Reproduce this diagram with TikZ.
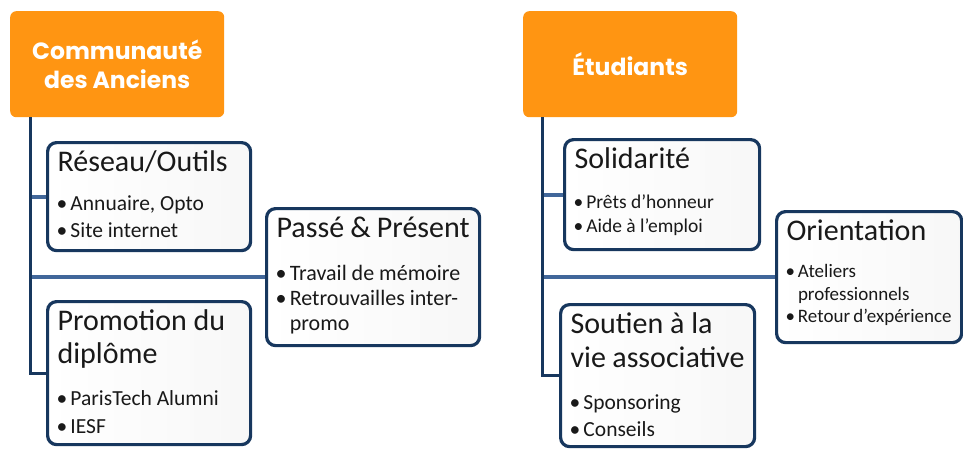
\documentclass[tikz,border=0pt]{standalone}
\usepackage{fontspec}
\setmainfont{Carlito}
\newfontfamily\headfont{Poppins}
\usetikzlibrary{positioning}

\definecolor{headorange}{HTML}{FF9512}
\definecolor{navy}{HTML}{17375E}
\definecolor{branchblue}{HTML}{41679A}

% title line and bullet line inside a box
\newcommand\ttl[1]{{\fontsize{30}{33}\selectfont #1\par}}
\newcommand\itm[1]{\par\hangindent=0.6em\hangafter=1\noindent\makebox[0.6em][l]{\hspace{-1pt}\textbullet}#1}

\tikzset{
  head/.style={fill=headorange, rounded corners=6pt, text=white, align=center,
    font=\headfont\bfseries\fontsize{23.5}{29}\selectfont, inner sep=0pt},
  itembox/.style={draw=navy, line width=3.2pt, rounded corners=9pt,
    left color=white, right color=black!3, text=black!90, inner xsep=10pt, inner ysep=8pt},
  trunk/.style={navy, line width=3pt},
  branch/.style={branchblue, line width=4pt}
}

\begin{document}
\begin{tikzpicture}[x=1pt,y=-1pt]
  \useasboundingbox (0,0) rectangle (963,448);
  %headers
  \node[head, minimum width=214pt, minimum height=106pt, anchor=north west] (anciens) at (10,11)
    {Communauté\\des Anciens};
  \node[head, minimum width=214pt, minimum height=106pt, anchor=north west] (etudiants) at (523,11)
    {Étudiants};
  %left column
  \node[itembox, anchor=north west] (reseau) at (46,141)
    {\parbox[t][92pt][t]{183pt}{\ttl{Réseau/Outils}\vspace{12pt}
      {\fontsize{21.5}{27}\selectfont \itm{Annuaire, Opto}\itm{Site internet}\par}}};
  \node[itembox, anchor=north west] (promo) at (46,300)
    {\parbox[t][127pt][t]{183pt}{\ttl{Promotion du\\diplôme}\vspace{14pt}
      {\fontsize{21.5}{28}\selectfont \itm{ParisTech Alumni}\itm{IESF}\par}}};
  \node[itembox, anchor=north west] (passe) at (265,207)
    {\parbox[t][121pt][t]{193pt}{\ttl{Passé \& Présent}\vspace{18pt}
      {\fontsize{22}{25}\selectfont \itm{Travail de mémoire}\itm{Retrouvailles inter-\\promo}\par}}};
  %right column
  \node[itembox, anchor=north west] (solid) at (563,138)
    {\parbox[t][94pt][t]{175pt}{\ttl{Solidarité}\vspace{16pt}
      {\fontsize{19.5}{24}\selectfont \itm{Prêts d'honneur}\itm{Aide à l'emploi}\par}}};
  \node[itembox, anchor=north west] (soutien) at (559,303)
    {\parbox[t][126pt][t]{174pt}{{\fontsize{30}{34}\selectfont Soutien à la\\vie associative\par}\vspace{15pt}
      {\fontsize{21.5}{27}\selectfont \itm{Sponsoring}\itm{Conseils}\par}}};
  \node[itembox, anchor=north west] (orient) at (775,210)
    {\parbox[t][115pt][t]{165pt}{\ttl{Orientation}\vspace{15pt}
      {\fontsize{19}{22.5}\selectfont \itm{Ateliers\\professionnels}\itm{Retour d'expérience}\par}}};
  %connectors
  \coordinate (trunkL) at ([xshift=20pt]anciens.south west);
  \coordinate (trunkR) at ([xshift=19pt]etudiants.south west);
  \draw[branch] (trunkL |- reseau.west) -- (reseau.west);
  \draw[branch] (trunkL |- passe.west) -- (passe.west);
  \draw[trunk] (trunkL) |- (promo.west);
  \draw[branch] (trunkR |- solid.west) -- (solid.west);
  \draw[branch] (trunkR |- orient.west) -- (orient.west);
  \draw[trunk] (trunkR) |- (soutien.west);
\end{tikzpicture}
\end{document}
